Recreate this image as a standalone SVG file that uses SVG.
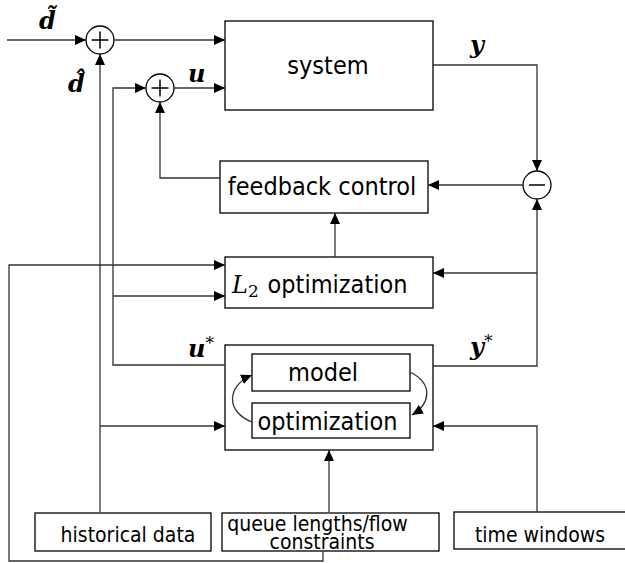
<svg xmlns="http://www.w3.org/2000/svg" width="625" height="563" viewBox="0 0 625 563">
<style>
.box{fill:#fff;stroke:#000;stroke-width:1.3}
.sum{fill:#fff;stroke:#000;stroke-width:1.3}
.sign{stroke:#000;stroke-width:1.5;fill:none}
.ln{fill:none;stroke:#333;stroke-width:1.3}
.arr{marker-end:url(#ah)}
.t{font-family:"DejaVu Sans Condensed","DejaVu Sans",sans-serif;font-stretch:condensed;fill:#000;text-anchor:middle}
.big{font-size:25px}
.sm{font-size:21px}
.m{font-family:"DejaVu Serif","Liberation Serif",serif;font-style:italic;font-weight:bold;font-size:24px;fill:#000}
.sup{font-family:"DejaVu Serif","Liberation Serif",serif;font-style:normal;font-weight:normal;font-size:17px}
</style>
<defs>
<marker id="ah" markerUnits="userSpaceOnUse" markerWidth="12" markerHeight="10" refX="11" refY="5" orient="auto">
<path d="M0,0 L11,5 L0,10 z" fill="#000"/>
</marker>
</defs>
<g id="sum1">
<circle class="sum" cx="100" cy="40" r="14"/>
<path class="sign" d="M91.5,40 H108.5 M100,31.5 V48.5"/>
</g>
<g id="sum2">
<circle class="sum" cx="160" cy="88" r="14"/>
<path class="sign" d="M151.5,88 H168.5 M160,79.5 V96.5"/>
</g>
<g id="diff">
<circle class="sum" cx="537" cy="185" r="14"/>
<path class="sign" d="M529,185 H545"/>
</g>
<g id="system">
<rect class="box" x="225" y="21" width="208" height="89"/>
<text class="t big" x="328" y="74">system</text>
</g>
<g id="feedback">
<rect class="box" x="220" y="161" width="208" height="52"/>
<text class="t big" x="322" y="195">feedback control</text>
</g>
<g id="l2opt">
<rect class="box" x="225" y="257" width="208" height="51"/>
<text x="232" y="293" style="font-family:'DejaVu Serif','Liberation Serif',serif;font-style:italic;font-size:24px">L<tspan dy="4" style="font-style:normal;font-size:17px">2</tspan></text>
<text class="t big" x="337.5" y="293">optimization</text>
</g>
<g id="modelopt">
<rect class="box" x="225" y="345" width="208" height="105"/>
<rect class="box" x="252" y="354" width="158" height="37"/>
<rect class="box" x="252" y="403" width="158" height="35"/>
<text class="t big" x="323" y="381">model</text>
<text class="t big" x="327.5" y="430">optimization</text>
</g>
<g id="historical">
<rect class="box" x="35" y="513" width="176" height="38"/>
<text class="t sm" x="128" y="542">historical data</text>
</g>
<g id="queue">
<rect class="box" x="222" y="513" width="217" height="38"/>
<text class="t sm" x="317.5" y="531">queue lengths/flow</text>
<text class="t sm" x="322" y="549">constraints</text>
</g>
<g id="timewin">
<rect class="box" x="454" y="512" width="180" height="37"/>
<text class="t sm" x="540" y="542">time windows</text>
</g>
<g id="connectors">
<path class="ln arr" d="M7,40 H86"/>
<path class="ln arr" d="M114,40 H225"/>
<path class="ln arr" d="M225,365 H113 V88 H146"/>
<path class="ln arr" d="M174,88 H225"/>
<path class="ln arr" d="M220,178 H160 V102"/>
<path class="ln arr" d="M433,65 H537 V171"/>
<path class="ln arr" d="M523,185 H428"/>
<path class="ln arr" d="M335,257 V213"/>
<path class="ln arr" d="M433,366 H537 V199"/>
<path class="ln arr" d="M537,273 H433"/>
<path class="ln arr" d="M323,551 V561 H9 V265 H225"/>
<path class="ln arr" d="M113,296 H225"/>
<path class="ln arr" d="M100,512 V54"/>
<path class="ln arr" d="M100,426 H225"/>
<path class="ln arr" d="M537,512 V426 H433"/>
<path class="ln arr" d="M329,512 V450"/>
<path class="ln arr" d="M252,422 C226,412 226,386 252,375"/>
<path class="ln arr" d="M410,372 C434,384 430,404 412,415"/>
</g>
<g id="labels">
<text class="m" x="39" y="29">d̃</text>
<text class="m" x="68" y="92">d̂</text>
<text class="m" x="188" y="82">u</text>
<text class="m" x="470" y="53">y</text>
<text class="m" x="188" y="357">u<tspan class="sup" dy="-8">*</tspan></text>
<text class="m" x="470" y="355">y<tspan class="sup" dy="-8">*</tspan></text>
</g>
</svg>
